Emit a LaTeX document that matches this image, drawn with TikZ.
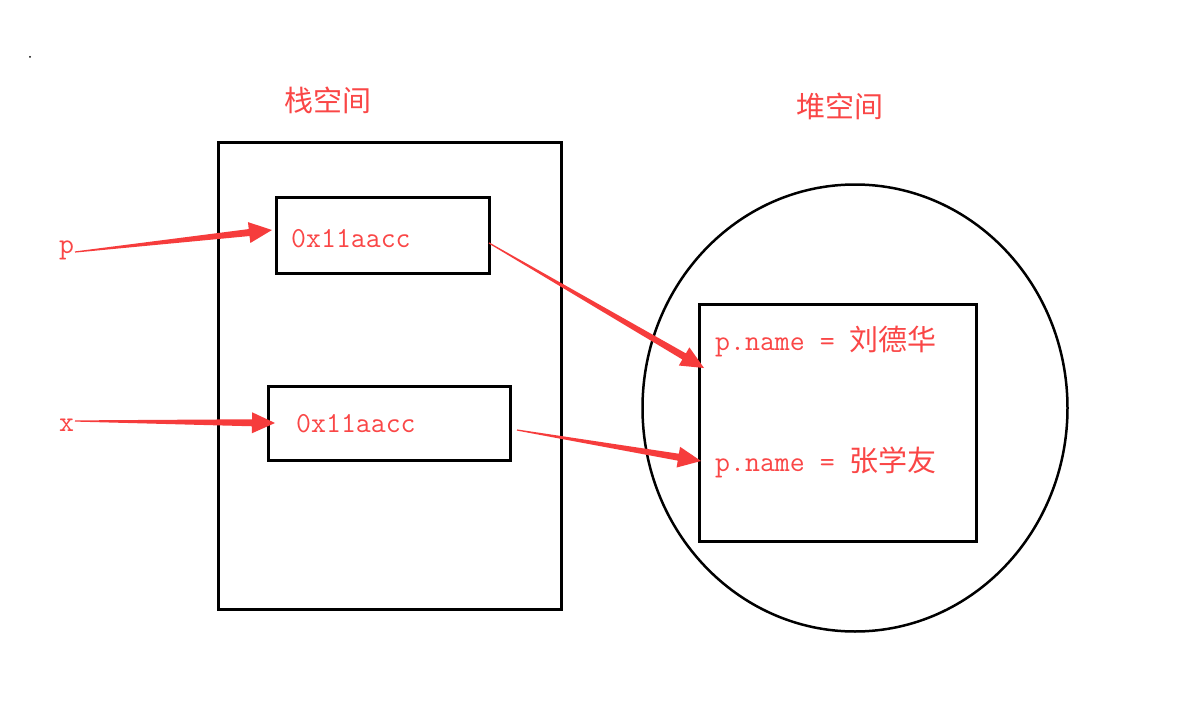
\documentclass[tikz,border=0pt]{standalone}
\usepackage{fontspec}
\usetikzlibrary{calc,shapes.geometric}
\newfontfamily\cjk{Noto Sans CJK SC}
\definecolor{ared}{RGB}{246,60,60}
\definecolor{tred}{RGB}{250,70,70}
\newcommand\taperarrow[2]{%
  \coordinate (hb) at ($(#2)!23pt!(#1)$);
  \fill[ared] ($(#1)!0.6pt!90:(#2)$) -- ($(hb)!3.5pt!90:(#2)$) -- ($(hb)!10.5pt!90:(#2)$) -- (#2)
    -- ($(hb)!10.5pt!-90:(#2)$) -- ($(hb)!3.5pt!-90:(#2)$) -- ($(#1)!0.6pt!-90:(#2)$) -- cycle;}
\tikzset{
  box/.style={draw=black, line width=3pt, anchor=north west, inner sep=0pt},
  lbl/.style={text=tred, inner sep=0pt, anchor=base west, font=\ttfamily\fontsize{29}{33}\selectfont},
  ttl/.style={text=tred, inner sep=0pt, font=\cjk\fontsize{29}{32}\selectfont},
}
\begin{document}
\begin{tikzpicture}[x=1pt,y=-1pt]
\useasboundingbox[fill=white] (0,0) rectangle (1200,701);
\fill (30,57) circle (1);
% titles
\node[ttl] (t1) at (328,100) {栈空间};
\node[ttl] (t2) at (840,106) {堆空间};
% stack
\node[box, minimum width=343, minimum height=467] (stack) at (217,141) {};
\node[box, minimum width=213, minimum height=76] (b1) at (275,196) {};
\node[box, minimum width=242, minimum height=74] (b2) at (267,385) {};
% heap
\node[draw=black, line width=2.5pt, ellipse, inner sep=0pt, minimum width=425, minimum height=447] (heap) at (855,408) {};
\node[box, minimum width=277, minimum height=237] (hr) at (698,303) {};
% texts
\node[lbl] (v1) at (291,247) {0x11aacc};
\node[lbl] (v2) at (296,432) {0x11aacc};
\node[lbl] (p) at (59,253) {p};
\node[lbl] (x) at (59,431) {x};
\node[lbl] (n1) at (715,350) {p.name = {\cjk\fontsize{29}{32}\selectfont 刘德华}};
\node[lbl] (n2) at (715,471) {p.name = {\cjk\fontsize{29}{32}\selectfont 张学友}};
% arrows
\coordinate (pS) at (75,252);
\coordinate (pE) at (272,230);
\coordinate (xS) at (75,421);
\coordinate (xE) at (275,423);
\coordinate (aS) at (489,243);
\coordinate (aE) at (704,368);
\coordinate (bS) at (517,430);
\coordinate (bE) at (701,461);
\taperarrow{pS}{pE}
\taperarrow{xS}{xE}
\taperarrow{aS}{aE}
\taperarrow{bS}{bE}
\end{tikzpicture}
\end{document}
